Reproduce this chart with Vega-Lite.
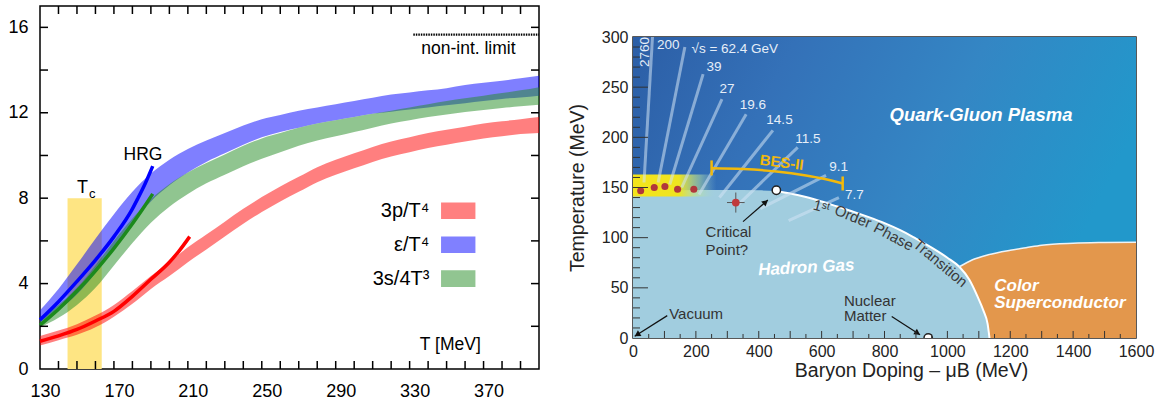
{
"$schema": "https://vega.github.io/schema/vega-lite/v6.json",
"background": "white",
"padding": {"left": 7, "top": 4, "right": 5, "bottom": 5},
"spacing": 94,
"bounds": "flush",
"center": true,
"config": {"font": "Liberation Sans", "text": {"font": "Liberation Sans"}},
"datasets": {
"tc": [{"T1": 144.9, "T2": 163.4, "v1": 0, "v2": 8}],
"lTickX": [
{"T":140,"a":0,"b":0.375},{"T":150,"a":0,"b":0.375},{"T":160,"a":0,"b":0.375},{"T":170,"a":0,"b":0.375},{"T":180,"a":0,"b":0.375},{"T":190,"a":0,"b":0.375},{"T":200,"a":0,"b":0.375},{"T":210,"a":0,"b":0.375},{"T":220,"a":0,"b":0.375},{"T":230,"a":0,"b":0.375},{"T":240,"a":0,"b":0.375},{"T":250,"a":0,"b":0.375},{"T":260,"a":0,"b":0.375},{"T":270,"a":0,"b":0.375},{"T":280,"a":0,"b":0.375},{"T":290,"a":0,"b":0.375},{"T":300,"a":0,"b":0.375},{"T":310,"a":0,"b":0.375},{"T":320,"a":0,"b":0.375},{"T":330,"a":0,"b":0.375},{"T":340,"a":0,"b":0.375},{"T":350,"a":0,"b":0.375},{"T":360,"a":0,"b":0.375},{"T":370,"a":0,"b":0.375},{"T":380,"a":0,"b":0.375},{"T":390,"a":0,"b":0.375},
{"T":140,"a":17,"b":16.625},{"T":150,"a":17,"b":16.625},{"T":160,"a":17,"b":16.625},{"T":170,"a":17,"b":16.625},{"T":180,"a":17,"b":16.625},{"T":190,"a":17,"b":16.625},{"T":200,"a":17,"b":16.625},{"T":210,"a":17,"b":16.625},{"T":220,"a":17,"b":16.625},{"T":230,"a":17,"b":16.625},{"T":240,"a":17,"b":16.625},{"T":250,"a":17,"b":16.625},{"T":260,"a":17,"b":16.625},{"T":270,"a":17,"b":16.625},{"T":280,"a":17,"b":16.625},{"T":290,"a":17,"b":16.625},{"T":300,"a":17,"b":16.625},{"T":310,"a":17,"b":16.625},{"T":320,"a":17,"b":16.625},{"T":330,"a":17,"b":16.625},{"T":340,"a":17,"b":16.625},{"T":350,"a":17,"b":16.625},{"T":360,"a":17,"b":16.625},{"T":370,"a":17,"b":16.625},{"T":380,"a":17,"b":16.625},{"T":390,"a":17,"b":16.625}],
"lTickY": [
{"v":2,"a":130,"b":134.33},{"v":4,"a":130,"b":134.33},{"v":6,"a":130,"b":134.33},{"v":8,"a":130,"b":134.33},{"v":10,"a":130,"b":134.33},{"v":12,"a":130,"b":134.33},{"v":14,"a":130,"b":134.33},{"v":16,"a":130,"b":134.33},
{"v":2,"a":400,"b":395.67},{"v":4,"a":400,"b":395.67},{"v":6,"a":400,"b":395.67},{"v":8,"a":400,"b":395.67},{"v":10,"a":400,"b":395.67},{"v":12,"a":400,"b":395.67},{"v":14,"a":400,"b":395.67},{"v":16,"a":400,"b":395.67}],
"rTickX": [
{"mu":50,"a":0,"b":4},{"mu":100,"a":0,"b":7},{"mu":150,"a":0,"b":4},{"mu":200,"a":0,"b":7},{"mu":250,"a":0,"b":4},{"mu":300,"a":0,"b":7},{"mu":350,"a":0,"b":4},{"mu":400,"a":0,"b":7},{"mu":450,"a":0,"b":4},{"mu":500,"a":0,"b":7},{"mu":550,"a":0,"b":4},{"mu":600,"a":0,"b":7},{"mu":650,"a":0,"b":4},{"mu":700,"a":0,"b":7},{"mu":750,"a":0,"b":4},{"mu":800,"a":0,"b":7},{"mu":850,"a":0,"b":4},{"mu":900,"a":0,"b":7},{"mu":950,"a":0,"b":4},{"mu":1000,"a":0,"b":7},{"mu":1050,"a":0,"b":4},{"mu":1100,"a":0,"b":7},{"mu":1150,"a":0,"b":4},{"mu":1200,"a":0,"b":7},{"mu":1250,"a":0,"b":4},{"mu":1300,"a":0,"b":7},{"mu":1350,"a":0,"b":4},{"mu":1400,"a":0,"b":7},{"mu":1450,"a":0,"b":4},{"mu":1500,"a":0,"b":7},{"mu":1550,"a":0,"b":4}],
"rTickY": [
{"T":10,"a":0,"b":22.3},{"T":20,"a":0,"b":22.3},{"T":30,"a":0,"b":22.3},{"T":40,"a":0,"b":22.3},{"T":50,"a":0,"b":47.7},{"T":60,"a":0,"b":22.3},{"T":70,"a":0,"b":22.3},{"T":80,"a":0,"b":22.3},{"T":90,"a":0,"b":22.3},{"T":100,"a":0,"b":47.7},{"T":110,"a":0,"b":22.3},{"T":120,"a":0,"b":22.3},{"T":130,"a":0,"b":22.3},{"T":140,"a":0,"b":22.3},{"T":150,"a":0,"b":47.7},{"T":160,"a":0,"b":22.3},{"T":170,"a":0,"b":22.3},{"T":180,"a":0,"b":22.3},{"T":190,"a":0,"b":22.3},{"T":200,"a":0,"b":47.7},{"T":210,"a":0,"b":22.3},{"T":220,"a":0,"b":22.3},{"T":230,"a":0,"b":22.3},{"T":240,"a":0,"b":22.3},{"T":250,"a":0,"b":47.7},{"T":260,"a":0,"b":22.3},{"T":270,"a":0,"b":22.3},{"T":280,"a":0,"b":22.3},{"T":290,"a":0,"b":22.3}],
"blueBand": [
{"T":130,"lo":2.15,"hi":2.75},{"T":140,"lo":2.75,"hi":3.75},{"T":150,"lo":3.5,"hi":4.9},{"T":160,"lo":4.5,"hi":6.1},{"T":170,"lo":5.7,"hi":7.25},{"T":180,"lo":6.85,"hi":8.3},{"T":190,"lo":7.85,"hi":9.15},{"T":200,"lo":8.6,"hi":9.8},{"T":210,"lo":9.2,"hi":10.3},{"T":220,"lo":9.7,"hi":10.7},{"T":230,"lo":10.1,"hi":11.05},{"T":240,"lo":10.5,"hi":11.4},{"T":250,"lo":10.85,"hi":11.7},{"T":260,"lo":11.1,"hi":11.9},{"T":270,"lo":11.3,"hi":12.1},{"T":280,"lo":11.5,"hi":12.25},{"T":290,"lo":11.65,"hi":12.4},{"T":300,"lo":11.8,"hi":12.55},{"T":310,"lo":11.95,"hi":12.7},{"T":320,"lo":12.05,"hi":12.85},{"T":330,"lo":12.15,"hi":12.95},{"T":340,"lo":12.25,"hi":13.05},{"T":350,"lo":12.35,"hi":13.15},{"T":360,"lo":12.45,"hi":13.3},{"T":370,"lo":12.55,"hi":13.4},{"T":380,"lo":12.65,"hi":13.5},{"T":390,"lo":12.72,"hi":13.62},{"T":400,"lo":12.8,"hi":13.73}],
"greenBand": [
{"T":130,"lo":1.95,"hi":2.4},{"T":140,"lo":2.4,"hi":3.0},{"T":150,"lo":3.0,"hi":3.8},{"T":160,"lo":3.8,"hi":4.85},{"T":170,"lo":4.85,"hi":6.0},{"T":180,"lo":5.9,"hi":7.05},{"T":190,"lo":6.85,"hi":7.95},{"T":200,"lo":7.6,"hi":8.65},{"T":210,"lo":8.2,"hi":9.2},{"T":220,"lo":8.7,"hi":9.65},{"T":230,"lo":9.1,"hi":10.05},{"T":240,"lo":9.5,"hi":10.45},{"T":250,"lo":9.85,"hi":10.8},{"T":260,"lo":10.15,"hi":11.05},{"T":270,"lo":10.45,"hi":11.3},{"T":280,"lo":10.7,"hi":11.5},{"T":290,"lo":10.9,"hi":11.65},{"T":300,"lo":11.1,"hi":11.8},{"T":310,"lo":11.3,"hi":11.95},{"T":320,"lo":11.5,"hi":12.1},{"T":330,"lo":11.65,"hi":12.25},{"T":340,"lo":11.8,"hi":12.4},{"T":350,"lo":11.92,"hi":12.55},{"T":360,"lo":12.03,"hi":12.68},{"T":370,"lo":12.13,"hi":12.8},{"T":380,"lo":12.22,"hi":12.92},{"T":390,"lo":12.3,"hi":13.05},{"T":400,"lo":12.38,"hi":13.2}],
"redBand": [
{"T":130,"lo":1.1,"hi":1.55},{"T":140,"lo":1.35,"hi":1.8},{"T":150,"lo":1.6,"hi":2.1},{"T":160,"lo":1.95,"hi":2.5},{"T":170,"lo":2.45,"hi":3.0},{"T":180,"lo":3.05,"hi":3.65},{"T":190,"lo":3.75,"hi":4.35},{"T":200,"lo":4.35,"hi":5.0},{"T":210,"lo":5.0,"hi":5.7},{"T":220,"lo":5.6,"hi":6.3},{"T":230,"lo":6.2,"hi":6.9},{"T":240,"lo":6.8,"hi":7.5},{"T":250,"lo":7.35,"hi":8.05},{"T":260,"lo":7.85,"hi":8.55},{"T":270,"lo":8.3,"hi":9.0},{"T":280,"lo":8.75,"hi":9.45},{"T":290,"lo":9.1,"hi":9.8},{"T":300,"lo":9.4,"hi":10.1},{"T":310,"lo":9.7,"hi":10.4},{"T":320,"lo":9.95,"hi":10.65},{"T":330,"lo":10.15,"hi":10.85},{"T":340,"lo":10.35,"hi":11.05},{"T":350,"lo":10.5,"hi":11.2},{"T":360,"lo":10.65,"hi":11.35},{"T":370,"lo":10.8,"hi":11.5},{"T":380,"lo":10.9,"hi":11.6},{"T":390,"lo":11.0,"hi":11.7},{"T":400,"lo":11.05,"hi":11.8}],
"hrgBlue": [{"T":130,"v":2.3},{"T":140,"v":3.15},{"T":150,"v":4.1},{"T":160,"v":5.1},{"T":170,"v":6.2},{"T":180,"v":7.5},{"T":183,"v":8.0},{"T":187,"v":8.7},{"T":191,"v":9.5}],
"hrgGreen": [{"T":130,"v":2.05},{"T":140,"v":2.8},{"T":150,"v":3.65},{"T":160,"v":4.6},{"T":170,"v":5.65},{"T":180,"v":6.8},{"T":186,"v":7.55},{"T":191,"v":8.2}],
"hrgRed": [{"T":130,"v":1.3},{"T":140,"v":1.55},{"T":150,"v":1.85},{"T":160,"v":2.25},{"T":170,"v":2.7},{"T":180,"v":3.4},{"T":190,"v":4.2},{"T":200,"v":5.0},{"T":205,"v":5.5},{"T":211,"v":6.2}],
"legend": [
{"series":"3p/T⁴","T1":347,"T2":365.6,"v1":7.02,"v2":7.8,"T":340.7,"v":7.41},
{"series":"ε/T⁴","T1":347,"T2":365.6,"v1":5.43,"v2":6.21,"T":340.7,"v":5.82},
{"series":"3s/4T³","T1":347,"T2":365.6,"v1":3.84,"v2":4.62,"T":340.7,"v":4.23}],
"hadron": [{"mu":0,"T":146},{"mu":100,"T":147},{"mu":200,"T":147.5},{"mu":300,"T":147.5},{"mu":400,"T":147.2},{"mu":455,"T":146.5},{"mu":500,"T":144},{"mu":550,"T":140.5},{"mu":600,"T":136},{"mu":650,"T":131},{"mu":700,"T":126},{"mu":750,"T":120.5},{"mu":800,"T":114.5},{"mu":850,"T":107.5},{"mu":900,"T":99},{"mu":950,"T":90},{"mu":1000,"T":80},{"mu":1038,"T":71},{"mu":1070,"T":58},{"mu":1095,"T":42},{"mu":1115,"T":27},{"mu":1128,"T":14},{"mu":1134,"T":0}],
"orange": [{"mu":1038,"T":71},{"mu":1080,"T":78},{"mu":1130,"T":83},{"mu":1200,"T":87.5},{"mu":1250,"T":90},{"mu":1300,"T":92.5},{"mu":1400,"T":94.5},{"mu":1500,"T":95.2},{"mu":1600,"T":95.5}],
"beams": [
{"e":"200","mu1":35,"T1":155,"mu2":62,"T2":300},
{"e":"62.4","mu1":80,"T1":155,"mu2":165,"T2":290},
{"e":"39","mu1":117,"T1":153,"mu2":223,"T2":263},
{"e":"27","mu1":155,"T1":150,"mu2":283,"T2":238},
{"e":"19.6","mu1":210,"T1":143,"mu2":360,"T2":223},
{"e":"14.5","mu1":275,"T1":140,"mu2":445,"T2":207},
{"e":"11.5","mu1":335,"T1":133,"mu2":524,"T2":190},
{"e":"9.1","mu1":405,"T1":129,"mu2":614,"T2":162},
{"e":"7.7","mu1":495,"T1":117,"mu2":655,"T2":140}],
"beamLabels": [
{"t":"200","mu":112,"T":292},{"t":"39","mu":258,"T":270},{"t":"27","mu":299,"T":248},{"t":"19.6","mu":381,"T":232},{"t":"14.5","mu":466,"T":217},{"t":"11.5","mu":556,"T":198},{"t":"9.1","mu":654,"T":170},{"t":"7.7","mu":704,"T":143}],
"dots": [{"mu":24.4,"T":146.7},{"mu":67.6,"T":150},{"mu":101.5,"T":151},{"mu":141.8,"T":148.3},{"mu":193.5,"T":148.3}],
"bes": [{"mu":250,"T":169.3},{"mu":350,"T":168.5},{"mu":456,"T":166},{"mu":550,"T":162},{"mu":610,"T":158.5},{"mu":667,"T":154}],
"besCaps": [{"mu":250,"T1":162,"T2":177},{"mu":667,"T1":147,"T2":161}],
"arrows": [{"mu1":350,"T1":116,"mu2":429,"T2":137.5},{"mu1":109,"T1":22.3,"mu2":5.4,"T2":1.7},{"mu1":823,"T1":21.5,"mu2":913,"T2":3.3}],
"notes": [{"t":"Critical","mu":231,"T":106},{"t":"Point?","mu":231,"T":88},{"t":"Vacuum","mu":115,"T":24},{"t":"Nuclear","mu":671,"T":37},{"t":"Matter","mu":671,"T":22}]
},
"hconcat": [
{
"width": 499, "height": 363,
"view": {"stroke": "black", "strokeWidth": 1.5},
"resolve": {"axis": {"x": "independent", "y": "independent"}},
"layer": [
{"data": {"name": "tc"}, "mark": {"type": "rect", "color": "#fee583"},
 "encoding": {
  "x": {"field": "T1", "type": "quantitative", "scale": {"domain": [130, 400], "nice": false, "zero": false},
   "axis": {"orient": "bottom", "values": [130,170,210,250,290,330,370], "ticks": false, "labelPadding": 13, "labelOffset": 5, "labelFlush": false, "labelFontSize": 18, "labelColor": "black", "labelFont": "Liberation Sans", "domain": false, "grid": false, "title": null}},
  "x2": {"field": "T2"},
  "y": {"field": "v1", "type": "quantitative", "scale": {"domain": [0, 17], "nice": false},
   "axis": {"orient": "left", "values": [0,4,8,12,16], "ticks": false, "labelPadding": 12, "labelFlush": false, "labelFontSize": 18, "labelColor": "black", "labelFont": "Liberation Sans", "domain": false, "grid": false, "title": null}},
  "y2": {"field": "v2"}}},
{"data": {"name": "blueBand"}, "mark": {"type": "area", "color": "#0000ff", "opacity": 0.5, "interpolate": "monotone"},
 "encoding": {"x": {"field": "T", "type": "quantitative", "axis": null}, "y": {"field": "lo", "type": "quantitative", "axis": null}, "y2": {"field": "hi"}}},
{"data": {"name": "greenBand"}, "mark": {"type": "area", "color": "#228b22", "opacity": 0.5, "interpolate": "monotone"},
 "encoding": {"x": {"field": "T", "type": "quantitative", "axis": null}, "y": {"field": "lo", "type": "quantitative", "axis": null}, "y2": {"field": "hi"}}},
{"data": {"name": "redBand"}, "mark": {"type": "area", "color": "#ff0000", "opacity": 0.5, "interpolate": "monotone"},
 "encoding": {"x": {"field": "T", "type": "quantitative", "axis": null}, "y": {"field": "lo", "type": "quantitative", "axis": null}, "y2": {"field": "hi"}}},
{"data": {"name": "hrgBlue"}, "mark": {"type": "line", "color": "#0000ff", "strokeWidth": 3.5, "interpolate": "monotone"},
 "encoding": {"x": {"field": "T", "type": "quantitative", "axis": null}, "y": {"field": "v", "type": "quantitative", "axis": null}}},
{"data": {"name": "hrgGreen"}, "mark": {"type": "line", "color": "#1c8a1c", "strokeWidth": 3.5, "interpolate": "monotone"},
 "encoding": {"x": {"field": "T", "type": "quantitative", "axis": null}, "y": {"field": "v", "type": "quantitative", "axis": null}}},
{"data": {"name": "hrgRed"}, "mark": {"type": "line", "color": "#ff0000", "strokeWidth": 3.5, "interpolate": "monotone"},
 "encoding": {"x": {"field": "T", "type": "quantitative", "axis": null}, "y": {"field": "v", "type": "quantitative", "axis": null}}},
{"data": {"name": "legend"}, "mark": {"type": "rect"},
 "encoding": {"x": {"field": "T1", "type": "quantitative", "axis": null}, "x2": {"field": "T2"}, "y": {"field": "v1", "type": "quantitative", "axis": null}, "y2": {"field": "v2"},
  "color": {"field": "series", "type": "nominal", "scale": {"domain": ["3p/T⁴", "ε/T⁴", "3s/4T³"], "range": ["#ff8080", "#8080ff", "#91c591"]}, "legend": null}}},
{"data": {"name": "legend"}, "mark": {"type": "text", "align": "right", "baseline": "middle", "fontSize": 20, "color": "black"},
 "encoding": {"x": {"field": "T", "type": "quantitative", "axis": null}, "y": {"field": "v", "type": "quantitative", "axis": null}, "text": {"field": "series"}}},
{"data": {"values": [{"T1": 332, "T2": 400, "v": 15.66}]}, "mark": {"type": "rule", "color": "black", "strokeWidth": 2.2, "strokeDash": [1.5, 1]},
 "encoding": {"x": {"field": "T1", "type": "quantitative", "axis": null}, "x2": {"field": "T2"}, "y": {"field": "v", "type": "quantitative", "axis": null}}},
{"data": {"values": [{"t": "non-int. limit", "T": 361.8, "v": 15.0}, {"t": "HRG", "T": 185.7, "v": 10.0}, {"t": "T [MeV]", "T": 352, "v": 1.14}]}, "mark": {"type": "text", "align": "center", "baseline": "middle", "fontSize": 17.5, "color": "black"},
 "encoding": {"x": {"field": "T", "type": "quantitative", "axis": null}, "y": {"field": "v", "type": "quantitative", "axis": null}, "text": {"field": "t"}}},
{"data": {"values": [{"t": "T", "T": 153, "v": 8.47}]}, "mark": {"type": "text", "align": "center", "baseline": "middle", "fontSize": 18, "color": "black"},
 "encoding": {"x": {"field": "T", "type": "quantitative", "axis": null}, "y": {"field": "v", "type": "quantitative", "axis": null}, "text": {"field": "t"}}},
{"data": {"values": [{"t": "c", "T": 158.3, "v": 8.2}]}, "mark": {"type": "text", "align": "center", "baseline": "middle", "fontSize": 13, "color": "black"},
 "encoding": {"x": {"field": "T", "type": "quantitative", "axis": null}, "y": {"field": "v", "type": "quantitative", "axis": null}, "text": {"field": "t"}}},
{"data": {"name": "lTickX"}, "mark": {"type": "rule", "color": "black", "strokeWidth": 1.5},
 "encoding": {"x": {"field": "T", "type": "quantitative", "axis": null}, "y": {"field": "a", "type": "quantitative", "axis": null}, "y2": {"field": "b"}}},
{"data": {"name": "lTickY"}, "mark": {"type": "rule", "color": "black", "strokeWidth": 1.5},
 "encoding": {"y": {"field": "v", "type": "quantitative", "axis": null}, "x": {"field": "a", "type": "quantitative", "axis": null}, "x2": {"field": "b"}}}
]
},
{
"width": 503, "height": 301,
"view": {"stroke": "#222", "strokeWidth": 1.5},
"resolve": {"axis": {"x": "independent", "y": "independent"}},
"layer": [
{"data": {"values": [{"mu1": 0, "mu2": 1600, "T1": 0, "T2": 300}]},
 "mark": {"type": "rect", "fill": {"gradient": "linear", "x1": 0, "y1": 0, "x2": 1, "y2": 0.3, "stops": [{"offset": 0, "color": "#2c5ea6"}, {"offset": 0.3, "color": "#3471b8"}, {"offset": 0.65, "color": "#3486c4"}, {"offset": 1, "color": "#2298cb"}]}},
 "encoding": {
  "x": {"field": "mu1", "type": "quantitative", "scale": {"domain": [0, 1600], "nice": false, "zero": false},
   "axis": {"orient": "bottom", "values": [0,200,400,600,800,1000,1200,1400,1600], "format": "d", "ticks": false, "labelPadding": 5, "labelFlush": false, "labelFontSize": 16, "labelColor": "#222", "labelFont": "Liberation Sans", "domain": false, "grid": false,
    "title": "Baryon Doping – μB (MeV)", "titleFontSize": 19.5, "titleFontWeight": "normal", "titleColor": "#222", "titleFont": "Liberation Sans", "titlePadding": 2, "titleX": 278}},
  "x2": {"field": "mu2"},
  "y": {"field": "T1", "type": "quantitative", "scale": {"domain": [0, 300], "nice": false},
   "axis": {"orient": "left", "values": [0,50,100,150,200,250,300], "ticks": false, "labelPadding": 5, "labelFlush": false, "labelFontSize": 16, "labelColor": "#222", "labelFont": "Liberation Sans", "domain": false, "grid": false,
    "title": "Temperature (MeV)", "titleFontSize": 19.5, "titleFontWeight": "normal", "titleColor": "#222", "titleFont": "Liberation Sans", "titlePadding": 14}},
  "y2": {"field": "T2"}}},
{"data": {"name": "orange"}, "mark": {"type": "area", "color": "#e3974c", "interpolate": "monotone"},
 "encoding": {"x": {"field": "mu", "type": "quantitative", "axis": null}, "y": {"field": "T", "type": "quantitative", "axis": null}}},
{"data": {"name": "hadron"}, "mark": {"type": "area", "color": "#a1cddf", "interpolate": "monotone"},
 "encoding": {"x": {"field": "mu", "type": "quantitative", "axis": null}, "y": {"field": "T", "type": "quantitative", "axis": null}}},
{"data": {"name": "hadron"}, "transform": [{"filter": "datum.mu >= 455"}], "mark": {"type": "line", "color": "white", "strokeWidth": 2, "interpolate": "monotone"},
 "encoding": {"x": {"field": "mu", "type": "quantitative", "axis": null}, "y": {"field": "T", "type": "quantitative", "axis": null}}},
{"data": {"name": "orange"}, "mark": {"type": "line", "color": "#eef3f6", "strokeWidth": 1.5, "interpolate": "monotone"},
 "encoding": {"x": {"field": "mu", "type": "quantitative", "axis": null}, "y": {"field": "T", "type": "quantitative", "axis": null}}},
{"data": {"values": [{"mu1": 0, "mu2": 265, "T1": 141, "T2": 163}]},
 "mark": {"type": "rect", "fill": {"gradient": "linear", "x1": 0, "y1": 0, "x2": 1, "y2": 0, "stops": [{"offset": 0, "color": "#f4e41b"}, {"offset": 0.55, "color": "#eee420"}, {"offset": 0.8, "color": "rgba(185,225,160,0.55)"}, {"offset": 1, "color": "rgba(160,210,220,0)"}]}},
 "encoding": {"x": {"field": "mu1", "type": "quantitative", "axis": null}, "x2": {"field": "mu2"}, "y": {"field": "T1", "type": "quantitative", "axis": null}, "y2": {"field": "T2"}}},
{"data": {"name": "beams"}, "mark": {"type": "rule", "color": "#d2e4f4", "opacity": 0.55, "strokeWidth": 3},
 "encoding": {"x": {"field": "mu1", "type": "quantitative", "axis": null}, "x2": {"field": "mu2"}, "y": {"field": "T1", "type": "quantitative", "axis": null}, "y2": {"field": "T2"}}},
{"data": {"name": "beamLabels"}, "mark": {"type": "text", "align": "center", "baseline": "middle", "fontSize": 13.5, "color": "#e6eef8"},
 "encoding": {"x": {"field": "mu", "type": "quantitative", "axis": null}, "y": {"field": "T", "type": "quantitative", "axis": null}, "text": {"field": "t"}}},
{"data": {"values": [{"t": "√s = 62.4 GeV", "mu": 186, "T": 288}]}, "mark": {"type": "text", "align": "left", "baseline": "middle", "fontSize": 13.5, "color": "#e6eef8"},
 "encoding": {"x": {"field": "mu", "type": "quantitative", "axis": null}, "y": {"field": "T", "type": "quantitative", "axis": null}, "text": {"field": "t"}}},
{"data": {"values": [{"t": "2760", "mu": 37, "T": 285}]}, "mark": {"type": "text", "align": "center", "baseline": "middle", "fontSize": 13.5, "angle": 270, "color": "#e6eef8"},
 "encoding": {"x": {"field": "mu", "type": "quantitative", "axis": null}, "y": {"field": "T", "type": "quantitative", "axis": null}, "text": {"field": "t"}}},
{"data": {"name": "dots"}, "mark": {"type": "point", "filled": true, "opacity": 1, "color": "#b1373b", "size": 50},
 "encoding": {"x": {"field": "mu", "type": "quantitative", "axis": null}, "y": {"field": "T", "type": "quantitative", "axis": null}}},
{"data": {"values": [{"mu1": 299, "mu2": 355, "T": 135}]}, "mark": {"type": "rule", "color": "#555", "strokeWidth": 1},
 "encoding": {"x": {"field": "mu1", "type": "quantitative", "axis": null}, "x2": {"field": "mu2"}, "y": {"field": "T", "type": "quantitative", "axis": null}}},
{"data": {"values": [{"mu": 327, "T1": 125, "T2": 145}]}, "mark": {"type": "rule", "color": "#555", "strokeWidth": 1},
 "encoding": {"x": {"field": "mu", "type": "quantitative", "axis": null}, "y": {"field": "T1", "type": "quantitative", "axis": null}, "y2": {"field": "T2"}}},
{"data": {"values": [{"mu": 327, "T": 135}]}, "mark": {"type": "point", "filled": true, "opacity": 1, "color": "#c0393c", "size": 60},
 "encoding": {"x": {"field": "mu", "type": "quantitative", "axis": null}, "y": {"field": "T", "type": "quantitative", "axis": null}}},
{"data": {"name": "bes"}, "mark": {"type": "line", "color": "#f2b90c", "strokeWidth": 2.5, "interpolate": "monotone"},
 "encoding": {"x": {"field": "mu", "type": "quantitative", "axis": null}, "y": {"field": "T", "type": "quantitative", "axis": null}}},
{"data": {"name": "besCaps"}, "mark": {"type": "rule", "color": "#f2b90c", "strokeWidth": 2.5},
 "encoding": {"x": {"field": "mu", "type": "quantitative", "axis": null}, "y": {"field": "T1", "type": "quantitative", "axis": null}, "y2": {"field": "T2"}}},
{"data": {"values": [{"t": "BES-II", "mu": 473, "T": 175}]}, "mark": {"type": "text", "align": "center", "baseline": "middle", "fontSize": 15, "fontWeight": "bold", "angle": 7, "color": "#f2b90c"},
 "encoding": {"x": {"field": "mu", "type": "quantitative", "axis": null}, "y": {"field": "T", "type": "quantitative", "axis": null}, "text": {"field": "t"}}},
{"data": {"name": "arrows"}, "mark": {"type": "rule", "color": "#111", "strokeWidth": 1.2},
 "encoding": {"x": {"field": "mu1", "type": "quantitative", "axis": null}, "x2": {"field": "mu2"}, "y": {"field": "T1", "type": "quantitative", "axis": null}, "y2": {"field": "T2"}}},
{"data": {"values": [{"mu": 421.8, "T": 135.5}]}, "mark": {"type": "point", "shape": "triangle-up", "filled": true, "opacity": 1, "color": "#111", "size": 45, "angle": 49},
 "encoding": {"x": {"field": "mu", "type": "quantitative", "axis": null}, "y": {"field": "T", "type": "quantitative", "axis": null}}},
{"data": {"values": [{"mu": 13.4, "T": 3.3}]}, "mark": {"type": "point", "shape": "triangle-up", "filled": true, "opacity": 1, "color": "#111", "size": 45, "angle": 238},
 "encoding": {"x": {"field": "mu", "type": "quantitative", "axis": null}, "y": {"field": "T", "type": "quantitative", "axis": null}}},
{"data": {"values": [{"mu": 905, "T": 4.9}]}, "mark": {"type": "point", "shape": "triangle-up", "filled": true, "opacity": 1, "color": "#111", "size": 45, "angle": 123},
 "encoding": {"x": {"field": "mu", "type": "quantitative", "axis": null}, "y": {"field": "T", "type": "quantitative", "axis": null}}},
{"data": {"values": [{"mu": 456, "T": 147.3}, {"mu": 939, "T": 0}]}, "mark": {"type": "point", "filled": true, "opacity": 1, "color": "white", "stroke": "#222", "strokeWidth": 1.5, "size": 70, "clip": true},
 "encoding": {"x": {"field": "mu", "type": "quantitative", "axis": null}, "y": {"field": "T", "type": "quantitative", "axis": null}}},
{"data": {"name": "notes"}, "mark": {"type": "text", "align": "left", "baseline": "middle", "fontSize": 15, "color": "#333"},
 "encoding": {"x": {"field": "mu", "type": "quantitative", "axis": null}, "y": {"field": "T", "type": "quantitative", "axis": null}, "text": {"field": "t"}}},
{"data": {"values": [{"t": "Quark-Gluon Plasma", "mu": 1107, "T": 222}]}, "mark": {"type": "text", "align": "center", "baseline": "middle", "fontSize": 18.5, "fontWeight": "bold", "fontStyle": "italic", "color": "white"},
 "encoding": {"x": {"field": "mu", "type": "quantitative", "axis": null}, "y": {"field": "T", "type": "quantitative", "axis": null}, "text": {"field": "t"}}},
{"data": {"values": [{"t": "Hadron Gas", "mu": 551, "T": 70}]}, "mark": {"type": "text", "align": "center", "baseline": "middle", "fontSize": 17, "fontWeight": "bold", "fontStyle": "italic", "color": "white", "angle": -3},
 "encoding": {"x": {"field": "mu", "type": "quantitative", "axis": null}, "y": {"field": "T", "type": "quantitative", "axis": null}, "text": {"field": "t"}}},
{"data": {"values": [{"t": "Color", "mu": 1149, "T": 52}, {"t": "Superconductor", "mu": 1149, "T": 34.5}]}, "mark": {"type": "text", "align": "left", "baseline": "middle", "fontSize": 17, "fontWeight": "bold", "fontStyle": "italic", "color": "white"},
 "encoding": {"x": {"field": "mu", "type": "quantitative", "axis": null}, "y": {"field": "T", "type": "quantitative", "axis": null}, "text": {"field": "t"}}},
{"data": {"values": [{"t": "1ˢᵗ", "mu": 600, "T": 131}]}, "mark": {"type": "text", "align": "center", "baseline": "middle", "fontSize": 15, "color": "#3a3a3a", "angle": 15},
 "encoding": {"x": {"field": "mu", "type": "quantitative", "axis": null}, "y": {"field": "T", "type": "quantitative", "axis": null}, "text": {"field": "t"}}},
{"data": {"values": [{"t": "Order", "mu": 700, "T": 121}]}, "mark": {"type": "text", "align": "center", "baseline": "middle", "fontSize": 15, "color": "#3a3a3a", "angle": 22},
 "encoding": {"x": {"field": "mu", "type": "quantitative", "axis": null}, "y": {"field": "T", "type": "quantitative", "axis": null}, "text": {"field": "t"}}},
{"data": {"values": [{"t": "Phase", "mu": 829, "T": 101}]}, "mark": {"type": "text", "align": "center", "baseline": "middle", "fontSize": 15, "color": "#3a3a3a", "angle": 28},
 "encoding": {"x": {"field": "mu", "type": "quantitative", "axis": null}, "y": {"field": "T", "type": "quantitative", "axis": null}, "text": {"field": "t"}}},
{"data": {"values": [{"t": "Transition", "mu": 978, "T": 74.6}]}, "mark": {"type": "text", "align": "center", "baseline": "middle", "fontSize": 15, "color": "#3a3a3a", "angle": 40},
 "encoding": {"x": {"field": "mu", "type": "quantitative", "axis": null}, "y": {"field": "T", "type": "quantitative", "axis": null}, "text": {"field": "t"}}},
{"data": {"name": "rTickX"}, "mark": {"type": "rule", "color": "#333", "strokeWidth": 1},
 "encoding": {"x": {"field": "mu", "type": "quantitative", "axis": null}, "y": {"field": "a", "type": "quantitative", "axis": null}, "y2": {"field": "b"}}},
{"data": {"name": "rTickY"}, "mark": {"type": "rule", "color": "#333", "strokeWidth": 1},
 "encoding": {"y": {"field": "T", "type": "quantitative", "axis": null}, "x": {"field": "a", "type": "quantitative", "axis": null}, "x2": {"field": "b"}}}
]
}
]
}
